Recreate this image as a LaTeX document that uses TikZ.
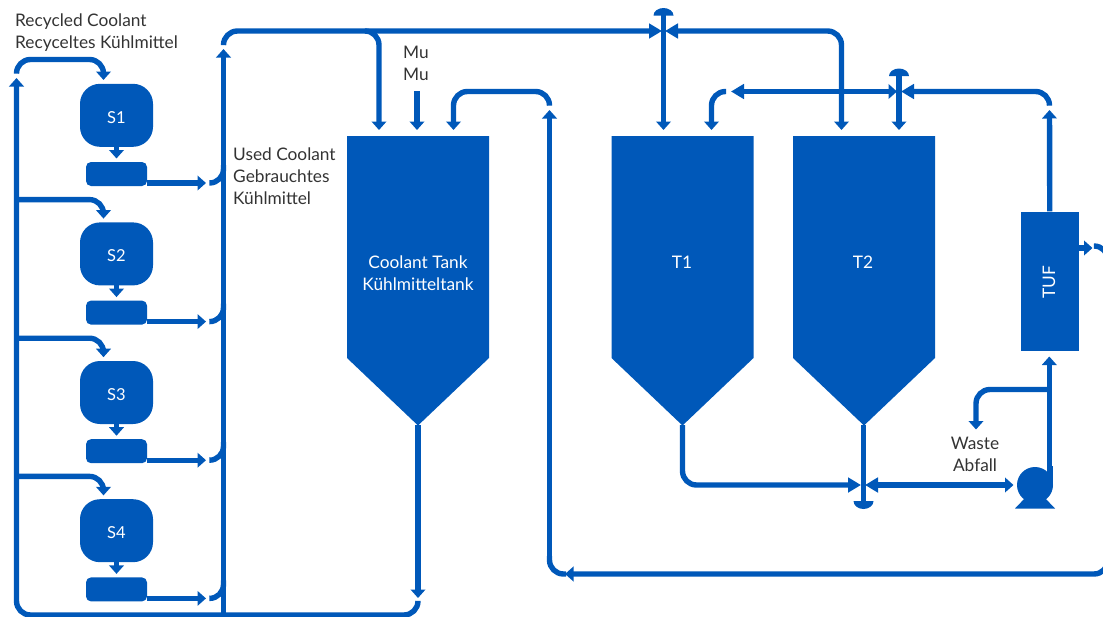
\documentclass[tikz,border=0pt]{standalone}
\usepackage{fontspec}
\setmainfont{Lato}
\usetikzlibrary{arrows.meta}
\definecolor{pipeblue}{HTML}{0058B9}
\definecolor{labelgrey}{HTML}{333333}
\tikzset{
  x=1pt,y=-1pt,
  pipe/.style={draw=pipeblue,line width=5.4pt,rounded corners=14pt,line cap=butt},
  arr/.style={pipe,-{Triangle[width=14.5pt,length=8.5pt]}},
  bowarr/.style={pipe,-{Triangle[width=14.5pt,length=13pt]}},
  bowtwo/.style={pipe,{Triangle[width=14.5pt,length=13pt]}-{Triangle[width=14.5pt,length=8.5pt]}},
  bowleft/.style={pipe,{Triangle[width=14.5pt,length=8.5pt]}-{Triangle[width=14.5pt,length=13pt]}},
  solid blue/.style={fill=pipeblue,draw=none},
  station/.style={solid blue,rounded corners=20pt,minimum width=73pt,minimum height=63pt,inner sep=0pt,text=white,font=\fontsize{16.5}{20}\selectfont},
  sump/.style={solid blue,rounded corners=5pt,minimum width=61pt,minimum height=24pt,inner sep=0pt},
  label/.style={text=labelgrey,inner sep=0pt,font=\fontsize{17.3}{22}\selectfont},
  inlabel/.style={text=white,inner sep=0pt,font=\fontsize{17.3}{22}\selectfont,align=center},
}
\newcommand{\tankshape}[1]{\fill[pipeblue] (#1-71,136) -- (#1+71,136) -- (#1+71,358) -- (#1,425.5) -- (#1-71,358) -- cycle;}
\begin{document}
\begin{tikzpicture}
\useasboundingbox (0,0) rectangle (1103,616);
\clip (0,0) rectangle (1103,616);

% coordinates
\coordinate (recTop) at (16.5,78);
\coordinate (usedTop) at (223.5,49);
\coordinate (usedBot) at (223.5,616);
\coordinate (J1) at (662,31);

% tanks
\tankshape{418}
\tankshape{682.5}
\tankshape{864}
\node[inlabel] (CT) at (418,273) {Coolant Tank\\Kühlmitteltank};
\node[inlabel] (T1) at (682,262) {T1};
\node[inlabel] (T2) at (863,262) {T2};
\coordinate (CTn1) at (379,130);
\coordinate (CTn2) at (417,130);
\coordinate (CTn3) at (453.5,130);
\coordinate (CTs) at (418,425);
\coordinate (T1n1) at (663.5,130);
\coordinate (T1n2) at (711.5,130);
\coordinate (T1s) at (682.5,425);
\coordinate (T2n1) at (841.5,130);
\coordinate (T2n2) at (899,130);
\coordinate (T2s) at (863.5,425);

% TUF
\node[solid blue,minimum width=58.5pt,minimum height=139.5pt,inner sep=0pt] (TUF) at (1049.75,281.25) {};
\node[inlabel,rotate=90] (TUFt) at (1049,282) {TUF};

% pump
\fill[pipeblue] (1035,485) circle (18);
\fill[pipeblue] (1046.5,466) rectangle (1053,485);
\fill[pipeblue] (1015,508.5) -- (1026,497) -- (1044,497) -- (1055,508.5) -- cycle;
\coordinate (pumpOut) at (1049.3,470);
\coordinate (pumpIn) at (1013.5,485);

% stations
\foreach \i/\dy in {1/0,2/138.6,3/277.2,4/415.4}{
  \node[station] (S\i) at (116.5,115.3+\dy) {\raisebox{-7.7pt}[0pt][0pt]{S\i}};
  \node[sump] (B\i) at (116.5,174+\dy) {};
  \draw[arr] (116.5,146+\dy) -- (116.5,158.5+\dy);
  \draw[arr] (147,183+\dy) -- (206,183+\dy);
  \draw[pipe] (210,183+\dy) -- (223.5,183+\dy) -- (223.5,165+\dy);
}
\foreach \dy in {138.6,277.2,415.4}{
  \draw[arr] (16.5,61+\dy) -- (103.5,61+\dy) -- (103.5,80+\dy);
}

% recycled loop
\draw[arr] (16.5,73) -- (16.5,59.5) -- (103.5,59.5) -- (103.5,80);
\draw[arr] (CTs) -- (418,598);
\draw[arr] (418,603) -- (418,615) -- (16.5,615) -- (recTop);

% used coolant main
\draw[arr] (usedBot) -- (usedTop);
\draw[bowarr] (223.5,44) -- (223.5,31) -- (J1);
\draw[arr] (366,31) -- (379,31) -- (CTn1);
\draw[bowleft] (T2n1) -- (841.5,31) -- (665,31);

% T1 vertical + dome
\fill[pipeblue] (653.5,15.5) arc[start angle=180,end angle=360,x radius=10,y radius=7.5] -- cycle;
\draw[arr] (663.5,10) -- (T1n1);

% Mu
\coordinate (muTop) at (417,91);
\draw[arr] (muTop) -- (CTn2);
% overflow to coolant tank
\draw[arr] (549.5,105) -- (549.5,91.5) -- (453.5,91.5) -- (CTn3);
\draw[arr] (549.5,560) -- (549.5,110);
\draw[pipe] (549.5,556) -- (549.5,574) -- (566,574);

% return from TUF
\draw[arr] (1095,246) -- (1108,246) -- (1108,574) -- (565,574);
\draw[arr] (1079,248) -- (1092.5,248);
\draw[arr] (TUF.north) -- (1049.5,110);
\draw[bowarr] (1049.5,105) -- (1049.5,91.5) -- (901,91.5);
\draw[bowtwo] (731,91.5) -- (897,91.5);
\draw[arr] (726,91.5) -- (711.5,91.5) -- (T1n2);

% T2 vertical + dome
\fill[pipeblue] (889,76) arc[start angle=180,end angle=360,x radius=10,y radius=7.5] -- cycle;
\draw[arr] (899,71) -- (T2n2);

% bottom manifold
\draw[bowarr] (T1s) -- (682.5,485) -- (861,485);
\draw[pipe] (T2s) -- (863.5,503);
\fill[pipeblue] (853.5,501) arc[start angle=180,end angle=0,x radius=10,y radius=8] -- cycle;
\draw[bowtwo] (865,485) -- (pumpIn);

% TUF feed
\draw[arr] (pumpOut) -- (1049.3,356.5);
\draw[arr] (1049.3,389.5) -- (976,389.5) -- (976,429.5);

% labels
\node[label,anchor=west,align=left] (rc) at (15,33) {Recycled Coolant\\Recyceltes Kühlmittel};
\node[label,anchor=west,align=left] (uc) at (233,176) {Used Coolant\\Gebrauchtes\\Kühlmittel};
\node[label,align=center] (mu) at (416,63) {Mu\\Mu};
\node[label,align=center] (wa) at (975,454) {Waste\\Abfall};
\end{tikzpicture}
\end{document}
